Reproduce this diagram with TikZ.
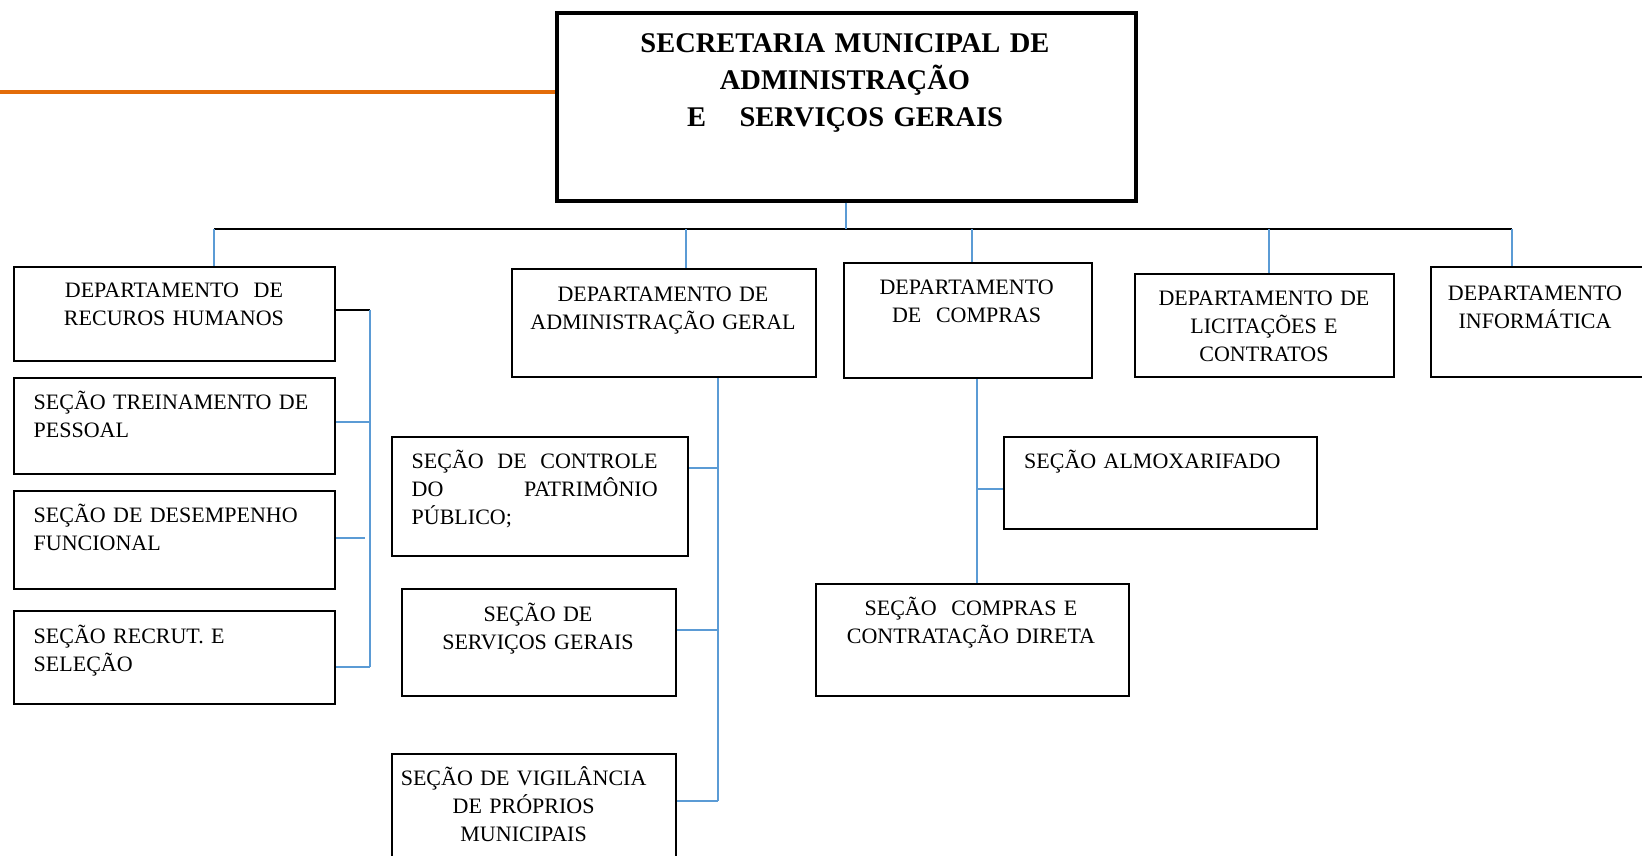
\documentclass[tikz,border=0pt]{standalone}
\usepackage{fontspec}
\setmainfont{Liberation Serif}
\definecolor{lblue}{HTML}{5B9BD5}
\definecolor{orng}{HTML}{E36C09}
\tikzset{
  box/.style={draw=black,line width=2pt,rectangle,inner sep=0pt,anchor=north west},
  lbl/.style={inner sep=0pt,font=\fontsize{22}{28}\selectfont,anchor=base},
  lblc/.style={lbl,align=center,text width=#1},
  lbll/.style={lbl,anchor=base west,align=left,text width=#1},
  bl/.style={draw=lblue,line width=2pt},
  bk/.style={draw=black,line width=2pt},
}
\begin{document}
\begin{tikzpicture}[x=1pt,y=-1pt]
\useasboundingbox (0,0) rectangle (1642,856);
\clip (0,0) rectangle (1642,856);
% boxes
\node[box,line width=3.5pt,minimum width=579pt,minimum height=187.5pt] (top) at (555,11.5) {};
\node[box,minimum width=321.4pt,minimum height=94pt] (rh) at (12.6,266) {};
\node[box,minimum width=321.4pt,minimum height=96pt] (trein) at (12.6,377) {};
\node[box,minimum width=321.4pt,minimum height=98pt] (desemp) at (12.6,490) {};
\node[box,minimum width=321.4pt,minimum height=93pt] (recrut) at (12.6,610) {};
\node[box,minimum width=304pt,minimum height=108pt] (admin) at (511,268) {};
\node[box,minimum width=296pt,minimum height=119pt] (contr) at (391,436) {};
\node[box,minimum width=274pt,minimum height=107pt] (serv) at (401,588) {};
\node[box,minimum width=284pt,minimum height=110pt] (vigil) at (391,753) {};
\node[box,minimum width=248pt,minimum height=115pt] (compras) at (843,262) {};
\node[box,minimum width=259pt,minimum height=103pt] (licit) at (1134,273) {};
\node[box,minimum width=220pt,minimum height=110pt] (inform) at (1430,266) {};
\node[box,minimum width=313pt,minimum height=92pt] (almox) at (1003,436) {};
\node[box,minimum width=313pt,minimum height=112pt] (direta) at (815,583) {};
% texts
\node[inner sep=0pt,anchor=base,align=center,text width=570pt,font=\fontsize{28.5}{37}\selectfont\bfseries] (ttop) at (845,52.5)
  {SECRETARIA MUNICIPAL DE\\ADMINISTRAÇÃO\\E\hspace*{24pt} SERVIÇOS GERAIS};
\node[lblc=300pt] (trh) at (174,297) {DEPARTAMENTO\ \ DE\\RECUROS HUMANOS};
\node[lbll=290pt] (ttrein) at (33.5,409) {SEÇÃO TREINAMENTO DE\\PESSOAL};
\node[lbll=290pt] (tdesemp) at (33.5,522) {SEÇÃO DE DESEMPENHO\\FUNCIONAL};
\node[lbll=290pt] (trecrut) at (33.5,643) {SEÇÃO RECRUT. E\\SELEÇÃO};
\node[lblc=300pt] (tadmin) at (663,301) {DEPARTAMENTO DE\\ADMINISTRAÇÃO GERAL};
\node[lbl,anchor=base west,align=justify,text width=246pt] (tcontr) at (411.5,468)
  {SEÇÃO DE CONTROLE\linebreak DO PATRIMÔNIO\linebreak PÚBLICO;};
\node[lblc=260pt] (tserv) at (538,621) {SEÇÃO DE\\SERVIÇOS GERAIS};
\node[lblc=270pt] (tvigil) at (523.6,785) {SEÇÃO DE VIGILÂNCIA\\DE PRÓPRIOS\\MUNICIPAIS};
\node[lblc=240pt] (tcompras) at (966.6,294) {DEPARTAMENTO\\DE\ \ COMPRAS};
\node[lblc=250pt] (tlicit) at (1264,305) {DEPARTAMENTO DE\\LICITAÇÕES E\\CONTRATOS};
\node[lblc=210pt] (tinform) at (1535,300) {DEPARTAMENTO\\INFORMÁTICA};
\node[lbll=290pt] (talmox) at (1024,468) {SEÇÃO ALMOXARIFADO};
\node[lblc=300pt] (tdireta) at (971,615) {SEÇÃO\ \ COMPRAS E\\CONTRATAÇÃO DIRETA};
% orange line
\coordinate (oL) at (0,92);
\draw[orng,line width=3.5pt] (oL) -- (oL -| top.west);
% bus
\coordinate (busL) at (214,229);
\coordinate (busR) at (1512,229);
\draw[bk,line width=2.5pt] (busL) -- (busR);
\draw[bl] (top.south) -- (top.south |- busL);
\coordinate (d1) at (214,229);
\coordinate (d2) at (686,229);
\coordinate (d3) at (972,229);
\coordinate (d4) at (1269,229);
\coordinate (d5) at (1512,229);
\draw[bl] (d1) -- (d1 |- rh.north);
\draw[bl] (d2) -- (d2 |- admin.north);
\draw[bl] (d3) -- (d3 |- compras.north);
\draw[bl] (d4) -- (d4 |- licit.north);
\draw[bl] (d5) -- (d5 |- inform.north);
% RH branch
\coordinate (rhA) at (370,310);
\coordinate (rhB) at (370,667);
\draw[bk] (rhA -| rh.east) -- (rhA);
\draw[bl] (rhA) -- (rhB);
\draw[bl] (trein.east |- 0,422) -- (370,422);
\draw[bl] (desemp.east |- 0,538) -- (365,538);
\draw[bl] (recrut.east |- rhB) -- (rhB);
% Admin branch
\coordinate (adB) at (718,801);
\draw[bl] (admin.south -| adB) -- (adB);
\draw[bl] (contr.east |- 0,468) -- (718,468);
\draw[bl] (serv.east |- 0,630) -- (718,630);
\draw[bl] (vigil.east |- adB) -- (adB);
% Compras branch
\coordinate (cpX) at (977,489);
\draw[bl] (compras.south -| cpX) -- (direta.north -| cpX);
\draw[bl] (cpX) -- (almox.west |- cpX);
\end{tikzpicture}
\end{document}
